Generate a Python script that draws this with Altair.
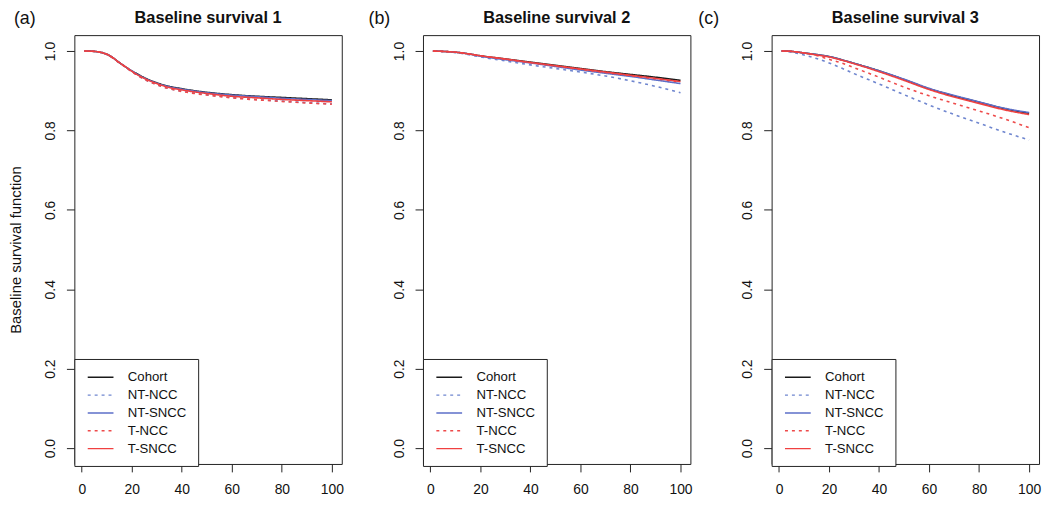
import altair as alt
import pandas as pd

FONT = "Liberation Sans"

methods = ["Cohort", "NT-NCC", "NT-SNCC", "T-NCC", "T-SNCC"]
colors = ["#1a1a1a", "#6f86cf", "#5c6fc9", "#ee4a4a", "#f04040"]
dashes = [[1, 0], [3, 4], [1, 0], [3, 4], [1, 0]]

# Panel (a): Baseline survival 1
t1 = [1, 5, 8, 10, 12, 15, 18, 20, 22, 25, 30, 35, 40, 45, 50, 60, 70, 80, 90, 100]
s1 = {
    "Cohort":  [1.000, 0.999, 0.996, 0.992, 0.985, 0.971, 0.958, 0.950, 0.943, 0.933, 0.920, 0.911, 0.905, 0.900, 0.896, 0.890, 0.886, 0.883, 0.880, 0.877],
    "NT-NCC":  [1.000, 0.999, 0.996, 0.992, 0.984, 0.970, 0.957, 0.948, 0.940, 0.929, 0.915, 0.905, 0.899, 0.894, 0.890, 0.883, 0.878, 0.874, 0.870, 0.867],
    "NT-SNCC": [1.000, 0.999, 0.996, 0.992, 0.985, 0.971, 0.958, 0.950, 0.942, 0.932, 0.919, 0.910, 0.904, 0.899, 0.895, 0.889, 0.885, 0.881, 0.878, 0.875],
    "T-NCC":   [1.000, 0.999, 0.996, 0.992, 0.984, 0.970, 0.957, 0.948, 0.940, 0.929, 0.915, 0.905, 0.898, 0.893, 0.889, 0.882, 0.877, 0.873, 0.869, 0.866],
    "T-SNCC":  [1.000, 0.999, 0.996, 0.992, 0.985, 0.971, 0.958, 0.949, 0.941, 0.931, 0.918, 0.908, 0.902, 0.897, 0.893, 0.886, 0.882, 0.878, 0.875, 0.872],
}

# Panel (b): Baseline survival 2
t2 = [1, 5, 10, 15, 20, 30, 40, 50, 60, 70, 80, 90, 100]
s2 = {
    "Cohort":  [1.000, 0.999, 0.997, 0.993, 0.988, 0.980, 0.972, 0.964, 0.956, 0.948, 0.941, 0.934, 0.926],
    "NT-NCC":  [1.000, 0.999, 0.996, 0.991, 0.985, 0.975, 0.965, 0.956, 0.947, 0.937, 0.925, 0.911, 0.895],
    "NT-SNCC": [1.000, 0.999, 0.997, 0.993, 0.987, 0.978, 0.970, 0.961, 0.952, 0.944, 0.936, 0.927, 0.918],
    "T-NCC":   [1.000, 0.999, 0.997, 0.993, 0.988, 0.979, 0.971, 0.962, 0.954, 0.946, 0.938, 0.930, 0.922],
    "T-SNCC":  [1.000, 0.999, 0.997, 0.993, 0.988, 0.980, 0.971, 0.963, 0.955, 0.947, 0.939, 0.931, 0.923],
}

# Panel (c): Baseline survival 3
t3 = [1, 5, 10, 15, 20, 25, 30, 40, 50, 60, 70, 80, 90, 100]
s3 = {
    "Cohort":  [1.000, 0.999, 0.995, 0.991, 0.986, 0.978, 0.969, 0.950, 0.928, 0.905, 0.887, 0.871, 0.855, 0.843],
    "NT-NCC":  [1.000, 0.997, 0.990, 0.981, 0.970, 0.957, 0.943, 0.917, 0.890, 0.864, 0.840, 0.818, 0.796, 0.776],
    "NT-SNCC": [1.000, 0.999, 0.995, 0.991, 0.986, 0.978, 0.969, 0.950, 0.929, 0.906, 0.888, 0.872, 0.856, 0.845],
    "T-NCC":   [1.000, 0.999, 0.995, 0.989, 0.979, 0.970, 0.958, 0.934, 0.909, 0.887, 0.868, 0.849, 0.829, 0.807],
    "T-SNCC":  [1.000, 0.999, 0.995, 0.990, 0.985, 0.977, 0.968, 0.948, 0.926, 0.903, 0.884, 0.868, 0.852, 0.840],
}

titles = ["Baseline survival 1", "Baseline survival 2", "Baseline survival 3"]
tags = ["(a)", "(b)", "(c)"]
tag_dx = [-61, -55, -74]
x_ticks = [0, 20, 40, 60, 80, 100]
y_ticks = [0.0, 0.2, 0.4, 0.6, 0.8, 1.0]

W, H = 270, 433


def make_panel(t, series, title, tag, dx, show_ytitle):
    rows = []
    for m in methods:
        for tv, sv in zip(t, series[m]):
            rows.append({"t": tv, "s": sv, "method": m})
    df = pd.DataFrame(rows)

    legend = alt.Legend(
        title=None, orient="none", legendX=0, legendY=H - 106,
        strokeColor="#222222", fillColor="white", padding=11,
        symbolType="M-2,0H2", symbolSize=169, symbolStrokeWidth=1.4,
        symbolOffset=8, labelOffset=20,
        labelFontSize=13.3, labelFont=FONT, labelColor="#111111",
        rowPadding=4,
    )
    yaxis = alt.Axis(
        values=y_ticks, format=".1f", labelAngle=-90, labelAlign="center",
        labelBaseline="bottom", labelPadding=9, grid=False,
        labelFontSize=14, labelFont=FONT, labelColor="#111111",
        title="Baseline survival function" if show_ytitle else None,
        titleFontSize=15, titleFontWeight="normal", titlePadding=20,
        titleFont=FONT, titleColor="#111111",
    )
    xaxis = alt.Axis(
        values=x_ticks, title=None, grid=False, labelPadding=11,
        labelFontSize=14, labelFont=FONT, labelColor="#111111",
    )
    lines = alt.Chart(df).mark_line(strokeWidth=1.6, interpolate="monotone").encode(
        x=alt.X("t:Q", scale=alt.Scale(domain=[-2.96, 103.96], nice=False, zero=False),
                axis=xaxis),
        y=alt.Y("s:Q", scale=alt.Scale(domain=[-0.04, 1.04], nice=False, zero=False),
                axis=yaxis),
        color=alt.Color("method:N", scale=alt.Scale(domain=methods, range=colors), legend=legend),
        strokeDash=alt.StrokeDash("method:N", scale=alt.Scale(domain=methods, range=dashes), legend=legend),
        order=alt.Order("t:Q"),
    )
    lab = pd.DataFrame({"tag": [tag], "title": [title]})
    tag_mark = alt.Chart(lab).mark_text(
        fontSize=18, align="left", baseline="middle", font=FONT, color="#111111"
    ).encode(text="tag:N", x=alt.value(dx), y=alt.value(-16))
    title_mark = alt.Chart(lab).mark_text(
        fontSize=16.5, fontWeight="bold", align="center", baseline="middle",
        font=FONT, color="#111111"
    ).encode(text="title:N", x=alt.value(W / 2), y=alt.value(-17))
    return alt.layer(lines, tag_mark, title_mark).properties(width=W, height=H)


panels = [
    make_panel(t1, s1, titles[0], tags[0], tag_dx[0], True),
    make_panel(t2, s2, titles[1], tags[1], tag_dx[1], False),
    make_panel(t3, s3, titles[2], tags[2], tag_dx[2], False),
]

chart = alt.hconcat(*panels, spacing=82, bounds="flush").resolve_legend(
    color="independent", strokeDash="independent"
).properties(
    padding={"left": 0, "top": -1, "right": 0, "bottom": 0}
).configure(
    font=FONT
).configure_view(
    stroke="#222222", strokeWidth=1
).configure_axis(
    domain=False, tickColor="#222222", tickSize=8, tickWidth=1,
)

chart.save("out.html", embed_options={"renderer": "svg", "actions": False})
